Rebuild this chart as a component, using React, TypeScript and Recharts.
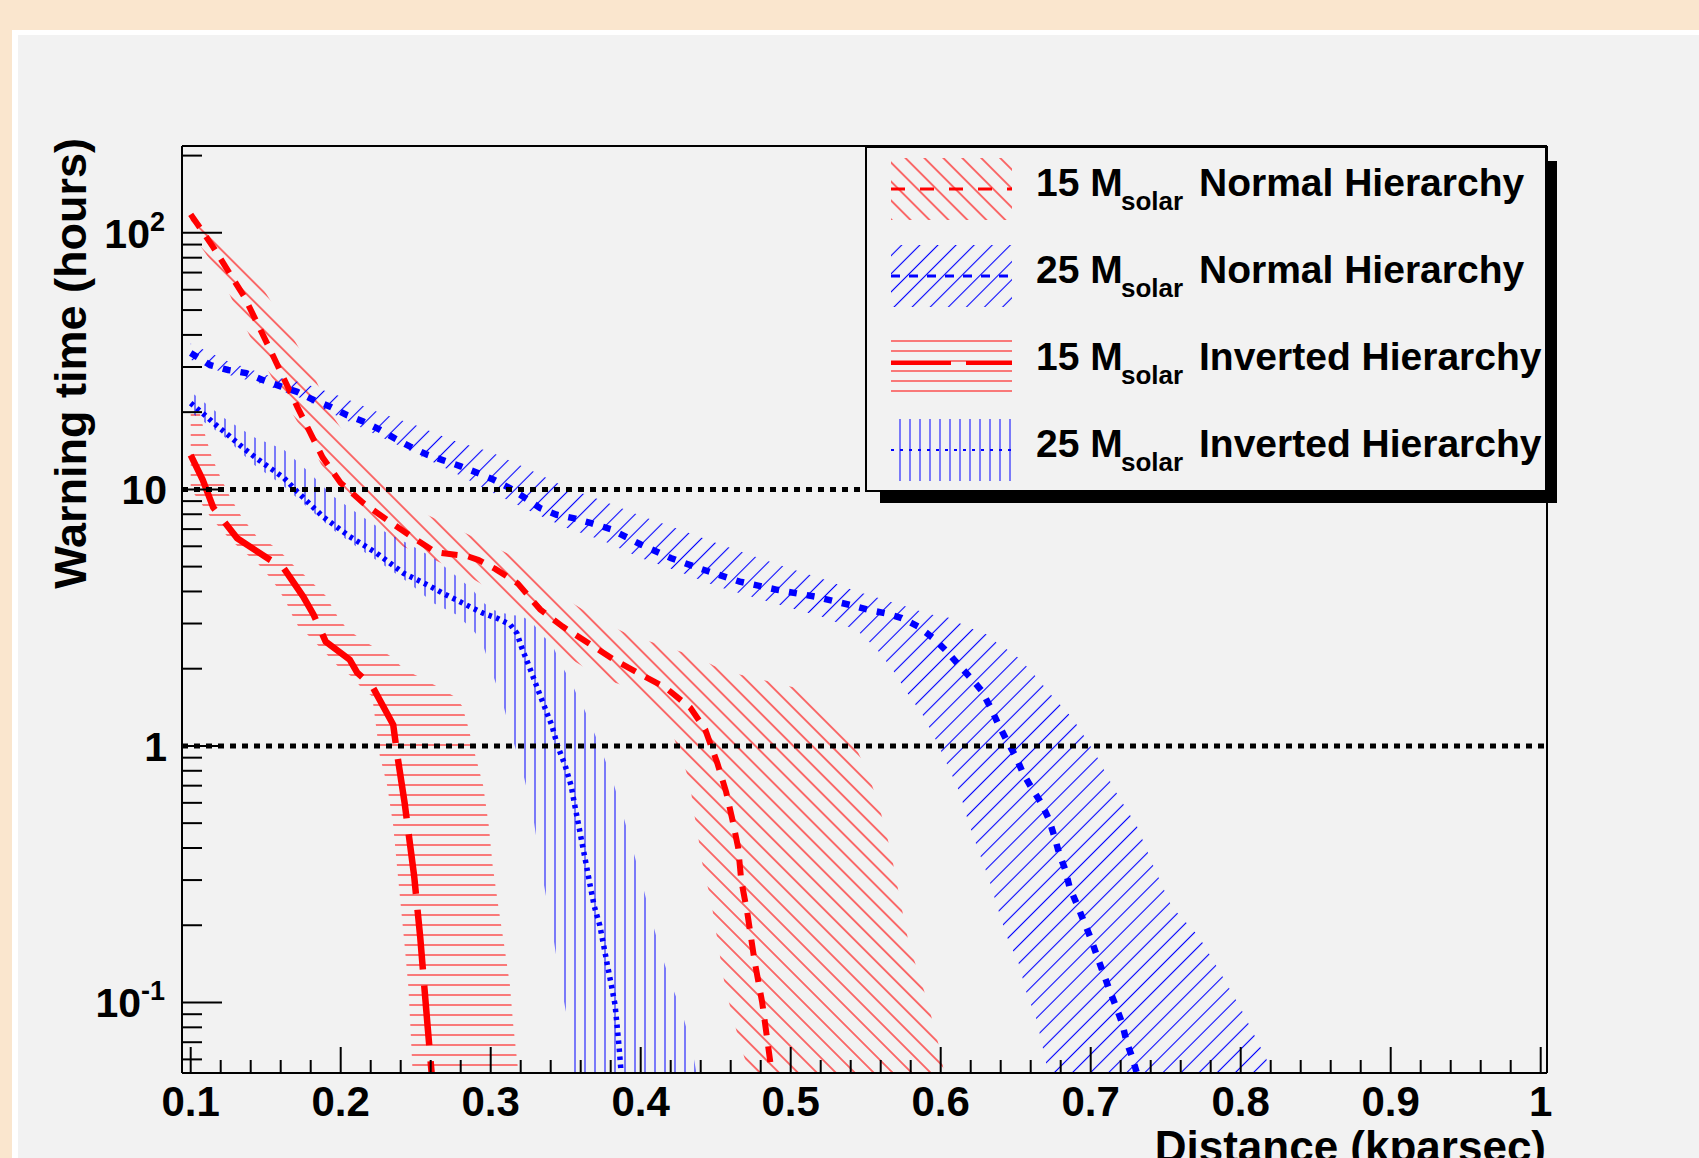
import { Area, ComposedChart, Line, ReferenceLine, XAxis, YAxis } from "recharts";

const FONT = "'Liberation Sans', Arial, Helvetica, sans-serif";

// axis ticks
const xTicks = [
  0.1, 0.12, 0.14, 0.16, 0.18, 0.2, 0.22, 0.24, 0.26, 0.28, 0.3, 0.32, 0.34, 0.36, 0.38, 0.4, 0.42, 0.44, 0.46,
  0.48, 0.5, 0.52, 0.54, 0.56, 0.58, 0.6, 0.62, 0.64, 0.66, 0.68, 0.7, 0.72, 0.74, 0.76, 0.78, 0.8, 0.82, 0.84,
  0.86, 0.88, 0.9, 0.92, 0.94, 0.96, 0.98, 1,
];
const xLabelled = [0.1, 0.2, 0.3, 0.4, 0.5, 0.6, 0.7, 0.8, 0.9, 1];
const yTicks = [
  0.06, 0.07, 0.08, 0.09, 0.1, 0.2, 0.3, 0.4, 0.5, 0.6, 0.7, 0.8, 0.9, 1, 2, 3, 4, 5, 6, 7, 8, 9, 10, 20, 30, 40, 50,
  60, 70, 80, 90, 100, 200,
];
const yLabelled = [0.1, 1, 10, 100];
const thresholds = [10, 1];

// [distance, hours]
const nh15Line = [
  [0.1, 118], [0.115, 88], [0.136, 56], [0.153, 35], [0.171, 21], [0.188, 13.3], [0.2, 10.6], [0.215, 8.85],
  [0.231, 7.6], [0.248, 6.5], [0.263, 5.7], [0.27, 5.62], [0.284, 5.5], [0.292, 5.3], [0.303, 4.9], [0.318, 4.3],
  [0.333, 3.4], [0.348, 2.92], [0.365, 2.52], [0.382, 2.17], [0.4, 1.9], [0.417, 1.68], [0.433, 1.41],
  [0.443, 1.16], [0.451, 0.86], [0.457, 0.66], [0.461, 0.52], [0.465, 0.4], [0.467, 0.3], [0.471, 0.225],
  [0.476, 0.144], [0.481, 0.1], [0.486, 0.061], [0.489, 0.045],
];
const nh25Line = [
  [0.1, 34], [0.113, 30.5], [0.125, 29.2], [0.137, 28.4], [0.148, 26.7], [0.16, 25.2], [0.171, 24], [0.182, 22.3],
  [0.193, 21], [0.204, 19.5], [0.215, 18.4], [0.226, 17.1], [0.236, 15.8], [0.246, 14.7], [0.257, 13.7],
  [0.268, 13], [0.28, 12.3], [0.291, 11.6], [0.302, 10.9], [0.313, 10.1], [0.323, 9.25], [0.333, 8.45],
  [0.344, 7.96], [0.355, 7.73], [0.367, 7.38], [0.38, 7], [0.4, 6.1], [0.42, 5.4], [0.44, 4.9], [0.466, 4.37],
  [0.491, 4.06], [0.516, 3.82], [0.539, 3.55], [0.552, 3.39], [0.563, 3.29], [0.574, 3.15], [0.585, 2.92],
  [0.595, 2.63], [0.603, 2.37], [0.611, 2.1], [0.62, 1.84], [0.627, 1.65], [0.633, 1.42], [0.638, 1.23],
  [0.644, 1.05], [0.65, 0.91], [0.655, 0.78], [0.661, 0.68], [0.667, 0.6], [0.672, 0.52], [0.676, 0.44],
  [0.679, 0.38], [0.683, 0.33], [0.686, 0.28], [0.691, 0.24], [0.695, 0.21], [0.7, 0.178], [0.704, 0.153],
  [0.708, 0.132], [0.712, 0.114], [0.717, 0.096], [0.721, 0.083], [0.724, 0.07], [0.728, 0.0605], [0.732, 0.05],
];
const ih15Line = [
  [0.1, 13.6], [0.108, 10.9], [0.115, 8.5], [0.123, 7.4], [0.131, 6.45], [0.151, 5.4], [0.162, 4.93],
  [0.175, 3.82], [0.182, 3.24], [0.19, 2.55], [0.206, 2.17], [0.211, 1.93], [0.221, 1.71], [0.235, 1.21],
  [0.2375, 0.94], [0.2426, 0.6], [0.249, 0.31], [0.253, 0.18], [0.258, 0.08], [0.261, 0.05],
];
const ih25Line = [
  [0.1, 21.7], [0.108, 19.8], [0.117, 17.8], [0.126, 16.1], [0.135, 14.5], [0.144, 13.2], [0.153, 12.1],
  [0.162, 11.1], [0.171, 9.8], [0.18, 8.7], [0.188, 7.84], [0.197, 7.16], [0.206, 6.55], [0.215, 6.08],
  [0.224, 5.64], [0.233, 5.15], [0.242, 4.71], [0.251, 4.44], [0.26, 4.18], [0.268, 3.94], [0.277, 3.71],
  [0.286, 3.49], [0.295, 3.29], [0.304, 3.15], [0.313, 2.97], [0.3175, 2.75], [0.3204, 2.44], [0.3255, 2.05],
  [0.3306, 1.71], [0.3357, 1.43], [0.3408, 1.2], [0.3446, 1], [0.3497, 0.836], [0.3536, 0.7], [0.3561, 0.585],
  [0.3587, 0.489], [0.3612, 0.409], [0.3638, 0.342], [0.3663, 0.286], [0.3689, 0.239], [0.3727, 0.2],
  [0.3753, 0.167], [0.3778, 0.14], [0.3804, 0.117], [0.3829, 0.098], [0.3842, 0.082], [0.3855, 0.068],
  [0.3867, 0.0556], [0.388, 0.048],
];

// [distance, lower, upper]  (0.03 = below the axis)
const nh15Band = [
  [0.1, 100, 125], [0.11, 83, 110], [0.12, 68, 95], [0.133, 47, 78], [0.145, 34, 65], [0.164, 21.5, 43],
  [0.18, 15, 29.6], [0.193, 10.7, 20], [0.213, 8, 13.4], [0.221, 7.4, 11.5], [0.241, 6, 9.25], [0.253, 5.64, 8.2],
  [0.282, 4.7, 6.8], [0.312, 3.7, 5.6], [0.331, 2.9, 4.6], [0.345, 2.34, 3.9], [0.374, 1.84, 3.06],
  [0.393, 1.68, 2.7], [0.413, 1.35, 2.48], [0.42, 1.16, 2.4], [0.428, 0.875, 2.32], [0.433, 0.71, 2.27],
  [0.435, 0.568, 2.25], [0.438, 0.46, 2.2], [0.44, 0.374, 2.17], [0.443, 0.308, 2.13], [0.447, 0.25, 2.08],
  [0.449, 0.206, 2.05], [0.452, 0.165, 2.03], [0.454, 0.136, 2.01], [0.457, 0.11, 1.98], [0.461, 0.0895, 1.95],
  [0.466, 0.0695, 1.9], [0.471, 0.0564, 1.87], [0.473, 0.03, 1.86], [0.49, 0.03, 1.76], [0.508, 0.03, 1.66],
  [0.525, 0.03, 1.35], [0.541, 0.03, 1.06], [0.551, 0.03, 0.79], [0.558, 0.03, 0.61], [0.563, 0.03, 0.475],
  [0.567, 0.03, 0.38], [0.573, 0.03, 0.25], [0.579, 0.03, 0.167], [0.586, 0.03, 0.126], [0.592, 0.03, 0.097],
  [0.596, 0.03, 0.078], [0.6, 0.03, 0.064], [0.603, 0.03, 0.05],
];
const nh25Band = [
  [0.1, 32, 37], [0.125, 28, 31.5], [0.15, 25.5, 28], [0.175, 22.5, 26], [0.2, 19, 23], [0.225, 16.2, 20],
  [0.25, 13.8, 17.8], [0.275, 11.7, 15.5], [0.3, 9.8, 14], [0.325, 8.3, 12], [0.35, 7.1, 10.2], [0.375, 6.3, 9],
  [0.4, 5.4, 7.9], [0.425, 4.8, 7], [0.45, 4.2, 6.2], [0.475, 3.8, 5.5], [0.5, 3.45, 4.9], [0.52, 3.2, 4.5],
  [0.544, 2.83, 4], [0.557, 2.4, 3.8], [0.568, 1.98, 3.62], [0.578, 1.6, 3.48], [0.588, 1.32, 3.33],
  [0.597, 1.05, 3.22], [0.605, 0.83, 3.17], [0.613, 0.653, 3], [0.618, 0.514, 2.9], [0.625, 0.393, 2.8],
  [0.632, 0.305, 2.7], [0.638, 0.233, 2.5], [0.644, 0.181, 2.38], [0.652, 0.142, 2.2], [0.657, 0.11, 2.05],
  [0.664, 0.0855, 1.85], [0.671, 0.0555, 1.65], [0.672, 0.03, 1.62], [0.688, 0.03, 1.28], [0.703, 0.03, 0.936],
  [0.716, 0.03, 0.673], [0.731, 0.03, 0.484], [0.742, 0.03, 0.338], [0.754, 0.03, 0.236], [0.772, 0.03, 0.181],
  [0.786, 0.03, 0.132], [0.8, 0.03, 0.095], [0.817, 0.03, 0.0605], [0.822, 0.03, 0.05],
];
const ih15Band = [
  [0.1, 10, 21], [0.106, 9, 19.8], [0.11, 8.3, 16], [0.114, 7.7, 13.4], [0.12, 7, 11.1], [0.126, 6.4, 9.4],
  [0.134, 5.8, 7.8], [0.144, 5.2, 6.55], [0.152, 4.6, 6.2], [0.157, 4.2, 5.9], [0.163, 3.7, 5.47], [0.168, 3.2, 5.1],
  [0.172, 2.9, 4.85], [0.177, 2.75, 4.57], [0.19, 2.3, 3.85], [0.198, 2.05, 3.19], [0.203, 1.95, 2.92],
  [0.207, 1.87, 2.78], [0.213, 1.71, 2.62], [0.221, 1.56, 2.45], [0.2235, 1.2, 2.4], [0.226, 0.92, 2.35],
  [0.231, 0.7, 2.28], [0.235, 0.49, 2.2], [0.2375, 0.34, 2.12], [0.24, 0.24, 2.05], [0.2426, 0.167, 2],
  [0.245, 0.117, 1.96], [0.2464, 0.082, 1.94], [0.2477, 0.057, 1.92], [0.249, 0.03, 1.9], [0.2515, 0.03, 1.87],
  [0.264, 0.03, 1.71], [0.2758, 0.03, 1.56], [0.281, 0.03, 1.43], [0.2847, 0.03, 1.2], [0.2898, 0.03, 0.915],
  [0.295, 0.03, 0.7], [0.2987, 0.03, 0.49], [0.3013, 0.03, 0.342], [0.305, 0.03, 0.239], [0.309, 0.03, 0.167],
  [0.3128, 0.03, 0.117], [0.315, 0.03, 0.082], [0.3179, 0.03, 0.057], [0.32, 0.03, 0.045],
];
const ih25Band = [
  [0.1, 20, 24], [0.122, 16.1, 19], [0.142, 12.5, 16], [0.162, 10.3, 14.3], [0.178, 8.5, 11.8], [0.195, 6.95, 9.4],
  [0.212, 5.9, 8], [0.23, 5, 6.8], [0.246, 4.3, 6.1], [0.262, 3.6, 5.4], [0.277, 3.25, 4.6], [0.288, 2.84, 4.06],
  [0.294, 2.56, 3.66], [0.301, 1.93, 3.4], [0.308, 1.47, 3.3], [0.314, 1.09, 3.24], [0.321, 0.81, 3.2],
  [0.328, 0.543, 3.01], [0.334, 0.322, 2.71], [0.341, 0.191, 2.48], [0.347, 0.115, 2.07], [0.354, 0.0705, 1.76],
  [0.357, 0.03, 1.6], [0.361, 0.03, 1.45], [0.367, 0.03, 1.2], [0.374, 0.03, 0.956], [0.381, 0.03, 0.743],
  [0.387, 0.03, 0.568], [0.394, 0.03, 0.409], [0.401, 0.03, 0.29], [0.407, 0.03, 0.212], [0.414, 0.03, 0.153],
  [0.42, 0.03, 0.119], [0.427, 0.03, 0.0935], [0.434, 0.03, 0.0674], [0.438, 0.03, 0.05],
];

const toLine = (pts: number[][]) => pts.map(([d, v]) => ({ d, v }));
const toBand = (pts: number[][]) => pts.map(([d, lo, hi]) => ({ d, range: [lo, hi] }));

const series = [
  { mass: "15", kind: "Normal Hierarchy", line: nh15Line, band: nh15Band, color: "#ff0000", fill: "url(#hatchNH15)", dash: "16 11", width: 6, legendDash: "14 15", legendWidth: 3 },
  { mass: "25", kind: "Normal Hierarchy", line: nh25Line, band: nh25Band, color: "#0000ff", fill: "url(#hatchNH25)", dash: "8 10", width: 6.5, legendDash: "9 9", legendWidth: 3 },
  { mass: "15", kind: "Inverted Hierarchy", line: ih15Line, band: ih15Band, color: "#ff0000", fill: "url(#hatchIH15)", dash: "60 16", width: 6.5, legendDash: "60 15", legendWidth: 4 },
  { mass: "25", kind: "Inverted Hierarchy", line: ih25Line, band: ih25Band, color: "#0000ff", fill: "url(#hatchIH25)", dash: "3.5 4.5", width: 5.5, legendDash: "3 6", legendWidth: 2 },
];

function Hatches() {
  return (
    <defs>
      <pattern id="hatchNH15" patternUnits="userSpaceOnUse" width={13.4} height={10} patternTransform="rotate(-45)">
        <line x1={6.7} y1={-1} x2={6.7} y2={11} stroke="#ff0000" strokeWidth={1.1} />
      </pattern>
      <pattern id="hatchNH25" patternUnits="userSpaceOnUse" width={12.8} height={10} patternTransform="rotate(45)">
        <line x1={6.4} y1={-1} x2={6.4} y2={11} stroke="#0000ff" strokeWidth={1.1} />
      </pattern>
      <pattern id="hatchIH15" patternUnits="userSpaceOnUse" width={10} height={10}>
        <line x1={-1} y1={5} x2={11} y2={5} stroke="rgba(255,0,0,0.5)" strokeWidth={2} />
      </pattern>
      <pattern id="hatchIH25" patternUnits="userSpaceOnUse" width={10} height={10}>
        <line x1={5} y1={-1} x2={5} y2={11} stroke="rgba(0,0,255,0.5)" strokeWidth={2} />
      </pattern>
    </defs>
  );
}

function YTick(props: any) {
  const { x, y, payload } = props;
  const v = payload.value;
  const major = yLabelled.includes(v);
  const len = major ? 40 : 20;
  let label = null;
  if (v === 100 || v === 0.1) {
    label = (
      <text x={x - 17} y={y + 15} textAnchor="end" fontSize={41} fontWeight="bold" fill="#000" fontFamily={FONT}>
        10
        <tspan fontSize={27} dy={-17}>{v === 100 ? "2" : "-1"}</tspan>
      </text>
    );
  } else if (v === 10 || v === 1) {
    label = (
      <text x={x - 15} y={y + 15} textAnchor="end" fontSize={41} fontWeight="bold" fill="#000" fontFamily={FONT}>
        {v}
      </text>
    );
  }
  return (
    <g>
      <line x1={x} y1={y} x2={x + len} y2={y} stroke="#000" strokeWidth={2} />
      {label}
    </g>
  );
}

function XTick(props: any) {
  const { x, y, payload } = props;
  const v = payload.value;
  const major = xLabelled.includes(v);
  return (
    <g>
      <line x1={x} y1={y} x2={x} y2={y - (major ? 26 : 13)} stroke="#000" strokeWidth={2} />
      {major && (
        <text x={x} y={y + 43} textAnchor="middle" fontSize={42} fontWeight="bold" fill="#000" fontFamily={FONT}>
          {v === 1 ? "1" : v.toFixed(1)}
        </text>
      )}
    </g>
  );
}

const yTitle = (props: any) => {
  const { x, y } = props.viewBox;
  const tx = x - 95;
  return (
    <text x={tx} y={y - 8} transform={`rotate(-90 ${tx} ${y - 8})`} textAnchor="end" fontSize={45} fontWeight="bold" fill="#000" fontFamily={FONT}>
      Warning time (hours)
    </text>
  );
};

const xTitle = (props: any) => {
  const { x, y, width } = props.viewBox;
  return (
    <text x={x + width - 1} y={y + 89} textAnchor="end" fontSize={44} fontWeight="bold" fill="#000" fontFamily={FONT}>
      Distance (kparsec)
    </text>
  );
};

function LegendBox() {
  const rowGap = 87;
  return (
    <svg width={700} height={360} style={{ position: "absolute", left: 865, top: 146 }}>
      <rect x={15} y={15} width={677} height={342} fill="#000" />
      <rect x={1} y={1} width={680} height={344} fill="#f2f2f2" stroke="#000" strokeWidth={2} />
      {series.map((s, i) => {
        const cy = 43 + i * rowGap;
        return (
          <g key={i}>
            <rect x={26} y={cy - 31} width={121} height={62} fill={s.fill} />
            <line x1={26} y1={cy} x2={147} y2={cy} stroke={s.color} strokeWidth={s.legendWidth} strokeDasharray={s.legendDash} />
            <text y={cy + 7} fontSize={39} fontWeight="bold" fill="#000" fontFamily={FONT}>
              <tspan x={171}>{s.mass} M</tspan>
              <tspan x={256} dy={14} fontSize={26}>solar</tspan>
              <tspan x={334} dy={-14}>{s.kind}</tspan>
            </text>
          </g>
        );
      })}
    </svg>
  );
}

export default function App() {
  return (
    <div style={{ position: "absolute", left: 0, top: 0, width: 1699, height: 1158, overflow: "hidden", background: "#fae6ce", fontFamily: FONT }}>
      <div style={{ position: "absolute", left: 12, top: 30, right: 0, bottom: 0, background: "#ffffff" }} />
      <div style={{ position: "absolute", left: 18, top: 35, right: 0, bottom: 0, background: "#f2f2f2" }} />
      <div style={{ position: "absolute", left: 0, top: 0 }}>
        <ComposedChart width={1699} height={1158} margin={{ top: 145, right: 151, bottom: 84, left: 181 }}>
          <Hatches />
          <XAxis
            type="number"
            dataKey="d"
            domain={[0.0942, 1.0042]}
            allowDataOverflow
            ticks={xTicks}
            interval={0}
            tickSize={0}
            tickMargin={0}
            tick={<XTick />}
            axisLine={{ stroke: "#000", strokeWidth: 2 }}
            height={1}
            label={{ content: xTitle }}
          />
          <XAxis xAxisId="top" orientation="top" type="number" dataKey="d" domain={[0.0942, 1.0042]} allowDataOverflow tick={false} tickLine={false} axisLine={{ stroke: "#000", strokeWidth: 2 }} height={1} />
          <YAxis
            type="number"
            scale="log"
            domain={[0.0531, 218]}
            allowDataOverflow
            ticks={yTicks}
            interval={0}
            tickSize={0}
            tickMargin={0}
            tick={<YTick />}
            axisLine={{ stroke: "#000", strokeWidth: 2 }}
            width={1}
            label={{ content: yTitle }}
          />
          <YAxis yAxisId="right" orientation="right" type="number" scale="log" domain={[0.0531, 218]} allowDataOverflow tick={false} tickLine={false} axisLine={{ stroke: "#000", strokeWidth: 2 }} width={1} />
          {series.map((s, i) => (
            <Area
              key={`band${i}`}
              data={toBand(s.band)}
              dataKey="range"
              type="linear"
              fill={s.fill}
              fillOpacity={1}
              stroke="none"
              dot={false}
              activeDot={false}
              isAnimationActive={false}
            />
          ))}
          {series.map((s, i) => (
            <Line
              key={`line${i}`}
              data={toLine(s.line)}
              dataKey="v"
              type="linear"
              stroke={s.color}
              strokeWidth={s.width}
              strokeDasharray={s.dash}
              dot={false}
              activeDot={false}
              isAnimationActive={false}
            />
          ))}
          {thresholds.map((t) => (
            <ReferenceLine key={t} y={t} stroke="#000" strokeWidth={5} strokeDasharray="6 6" />
          ))}
        </ComposedChart>
      </div>
      <LegendBox />
    </div>
  );
}
